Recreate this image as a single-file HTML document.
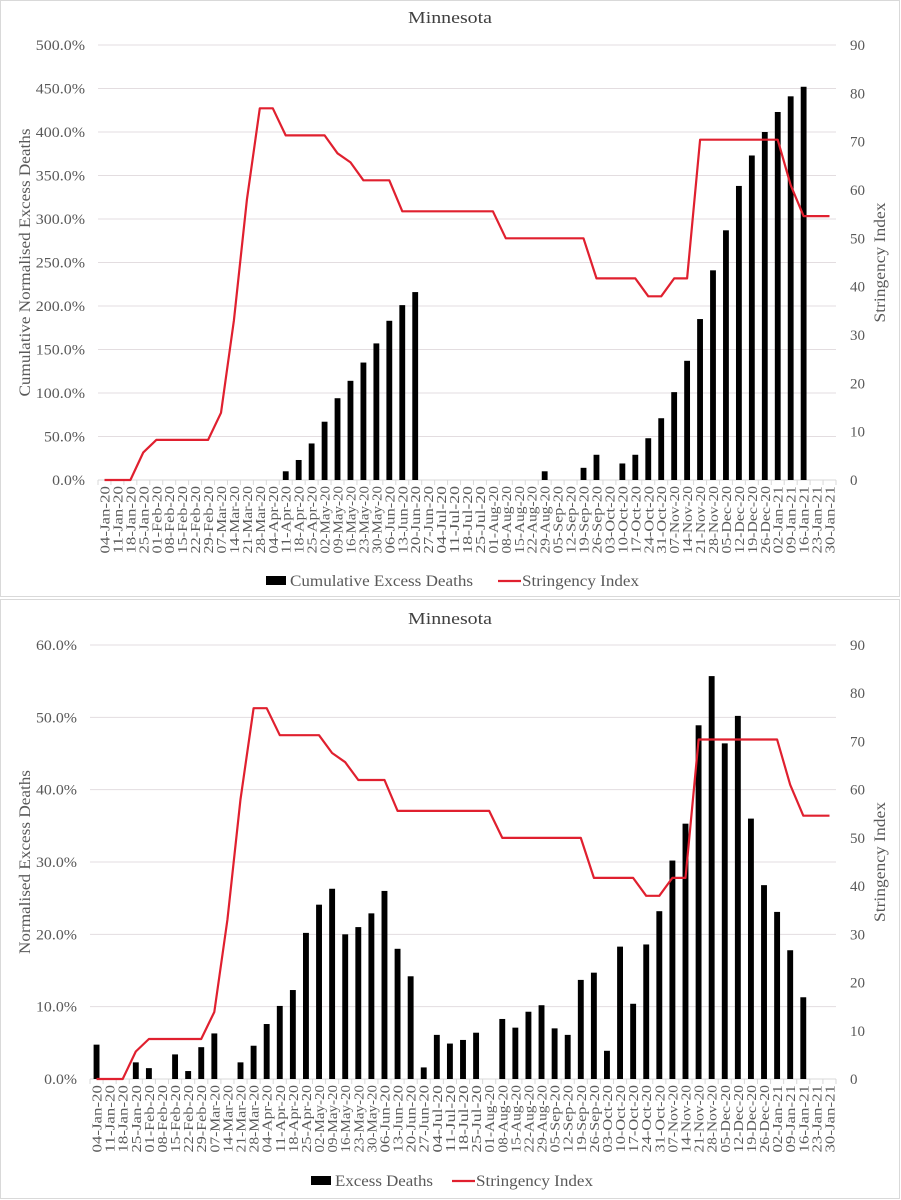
<!DOCTYPE html>
<html><head><meta charset="utf-8">
<style>
html,body{margin:0;padding:0;background:#fff;}
svg{display:block;font-family:"Liberation Serif",serif;}
</style></head>
<body>
<svg id="svg" width="901" height="1200" viewBox="0 0 901 1200" xmlns="http://www.w3.org/2000/svg">
<rect x="0.5" y="0.5" width="899" height="596" fill="#fff" stroke="#d9d9d9"/>
<rect x="0.5" y="599.5" width="899" height="599" fill="#fff" stroke="#d9d9d9"/>
<g id="top"></g>
<g id="bottom"></g>
</svg>
<script>
const categories = ["04-Jan-20","11-Jan-20","18-Jan-20","25-Jan-20","01-Feb-20","08-Feb-20","15-Feb-20","22-Feb-20","29-Feb-20","07-Mar-20","14-Mar-20","21-Mar-20","28-Mar-20","04-Apr-20","11-Apr-20","18-Apr-20","25-Apr-20","02-May-20","09-May-20","16-May-20","23-May-20","30-May-20","06-Jun-20","13-Jun-20","20-Jun-20","27-Jun-20","04-Jul-20","11-Jul-20","18-Jul-20","25-Jul-20","01-Aug-20","08-Aug-20","15-Aug-20","22-Aug-20","29-Aug-20","05-Sep-20","12-Sep-20","19-Sep-20","26-Sep-20","03-Oct-20","10-Oct-20","17-Oct-20","24-Oct-20","31-Oct-20","07-Nov-20","14-Nov-20","21-Nov-20","28-Nov-20","05-Dec-20","12-Dec-20","19-Dec-20","26-Dec-20","02-Jan-21","09-Jan-21","16-Jan-21","23-Jan-21","30-Jan-21"];
const stringency = [0,0,0,5.7,8.3,8.3,8.3,8.3,8.3,13.9,33,58,76.9,76.9,71.3,71.3,71.3,71.3,67.6,65.7,62,62,62,55.6,55.6,55.6,55.6,55.6,55.6,55.6,55.6,50,50,50,50,50,50,50,41.7,41.7,41.7,41.7,38,38,41.7,41.7,70.4,70.4,70.4,70.4,70.4,70.4,70.4,61,54.6,54.6,54.6];
const cumulativeExcess = [null,null,null,null,null,null,null,null,null,null,null,null,null,null,10,23,42,67,94,114,135,157,183,201,216,null,null,null,null,null,null,null,null,null,10,null,null,14,29,null,19,29,48,71,101,137,185,241,287,338,373,400,423,441,452,null,null];
const weeklyExcess = [4.75,0,0,2.3,1.5,null,3.4,1.1,4.4,6.3,null,2.3,4.6,7.6,10.1,12.3,20.2,24.1,26.3,20.0,21.0,22.9,26.0,18.0,14.2,1.6,6.1,4.9,5.4,6.4,null,8.3,7.1,9.3,10.2,7.0,6.1,13.7,14.7,3.9,18.3,10.4,18.6,23.2,30.2,35.3,48.9,55.7,46.4,50.2,36.0,26.8,23.1,17.8,11.3,null,null];
const topLeftTicks = ["0.0%","50.0%","100.0%","150.0%","200.0%","250.0%","300.0%","350.0%","400.0%","450.0%","500.0%"];
const bottomLeftTicks = ["0.0%","10.0%","20.0%","30.0%","40.0%","50.0%","60.0%"];
const rightTicks = ["0","10","20","30","40","50","60","70","80","90"];

const NS="http://www.w3.org/2000/svg";
function mk(parent,tag,attrs,text){const e=document.createElementNS(NS,tag);for(const k in attrs)e.setAttribute(k,attrs[k]);if(text!==undefined)e.textContent=text;parent.appendChild(e);return e;}

function drawChart(g,cfg){
  const {x0,x1,yTop,yBot,leftMax,leftTicks,bars,title,titleY,yTitle,yTitleLen,barName,barNameLen,legendY,legSwatchX,legLineX}=cfg;
  const n=categories.length, step=(x1-x0)/n;
  const xC=i=>x0+(i+0.5)*step;
  const yL=v=>yBot-(v/leftMax)*(yBot-yTop);
  const yR=v=>yBot-(v/90)*(yBot-yTop);
  const t=mk(g,'text',{x:450,y:titleY,'text-anchor':'middle','font-size':17,fill:'#404040',textLength:84,lengthAdjust:'spacingAndGlyphs'},title);
  
  
  leftTicks.forEach((lab,k)=>{
    const v=k*leftMax/(leftTicks.length-1), y=yL(v);
    const gl=mk(g,'line',{x1:x0,x2:x1,y1:y,y2:y,stroke:'#e3dde0','stroke-width':1});
    
    
    const tl=mk(g,'text',{x:x0-13,y:y+5,'text-anchor':'end','font-size':15,fill:'#595959',textLength:lab.length*8.2,lengthAdjust:'spacingAndGlyphs'},lab);
    
    
  });
  rightTicks.forEach((lab,k)=>{
    const y=yR(k*10);
    const tr=mk(g,'text',{x:x1+14,y:y+5,'text-anchor':'start','font-size':15,fill:'#595959'},lab);
    
    
  });
  const ax=mk(g,'line',{x1:x0,x2:x1,y1:yBot,y2:yBot,stroke:'#d9d9d9','stroke-width':1});
  
  
  for(let i=0;i<=n;i++){
    const tk=mk(g,'line',{x1:x0+i*step,x2:x0+i*step,y1:yBot,y2:yBot+5,stroke:'#d9d9d9'});
    
    
  }
  categories.forEach((c,i)=>{
    const x=xC(i)+5;
    const xl=mk(g,'text',{x:x,y:yBot+6,transform:`rotate(-90 ${x} ${yBot+6})`,'text-anchor':'end','font-size':14,fill:'#595959',textLength:c.length*7.5,lengthAdjust:'spacingAndGlyphs'},c);
    
    
  });
  const bw=step*0.45;
  bars.forEach((v,i)=>{
    if(v===null||v<=0)return;
    const b=mk(g,'rect',{x:xC(i)-bw/2,y:yL(v),width:bw,height:yBot-yL(v),fill:'#000'});
    
    
  });
  const pts=stringency.map((v,i)=>xC(i).toFixed(1)+','+yR(v).toFixed(1)).join(' ');
  const pl=mk(g,'polyline',{points:pts,fill:'none',stroke:'#e0202f','stroke-width':2.2,'stroke-linejoin':'round'});
  
  
  const ym=(yTop+yBot)/2;
  const lt=mk(g,'text',{x:30,y:ym,transform:`rotate(-90 30 ${ym})`,'text-anchor':'middle','font-size':16,fill:'#595959',textLength:yTitleLen,lengthAdjust:'spacingAndGlyphs'},yTitle);
  
  
  const rt=mk(g,'text',{x:885,y:ym,transform:`rotate(-90 885 ${ym})`,'text-anchor':'middle','font-size':16,fill:'#595959',textLength:120,lengthAdjust:'spacingAndGlyphs'},'Stringency Index');
  
  
  const sw=mk(g,'rect',{x:legSwatchX,y:legendY-5,width:20,height:9,fill:'#000'});
  
  
  const st=mk(g,'text',{x:legSwatchX+24,y:legendY+5,'font-size':16,fill:'#595959',textLength:barNameLen,lengthAdjust:'spacingAndGlyphs'},barName);
  
  
  const ll=mk(g,'line',{x1:legLineX,x2:legLineX+23,y1:legendY,y2:legendY,stroke:'#e0202f','stroke-width':2.2});
  
  
  const lx=mk(g,'text',{x:legLineX+24,y:legendY+5,'font-size':16,fill:'#595959',textLength:117,lengthAdjust:'spacingAndGlyphs'},'Stringency Index');
  
  
}
drawChart(document.getElementById('top'),{x0:98,x1:836,yTop:45,yBot:480,leftMax:500,leftTicks:topLeftTicks,bars:cumulativeExcess,title:'Minnesota',titleY:23,yTitle:'Cumulative Normalised Excess Deaths',yTitleLen:268,barName:'Cumulative Excess Deaths',barNameLen:183,legendY:581,legSwatchX:266,legLineX:498});
drawChart(document.getElementById('bottom'),{x0:90,x1:836,yTop:645,yBot:1079,leftMax:60,leftTicks:bottomLeftTicks,bars:weeklyExcess,title:'Minnesota',titleY:624,yTitle:'Normalised Excess Deaths',yTitleLen:184,barName:'Excess Deaths',barNameLen:98,legendY:1181,legSwatchX:311,legLineX:452});
</script>
</body></html>
